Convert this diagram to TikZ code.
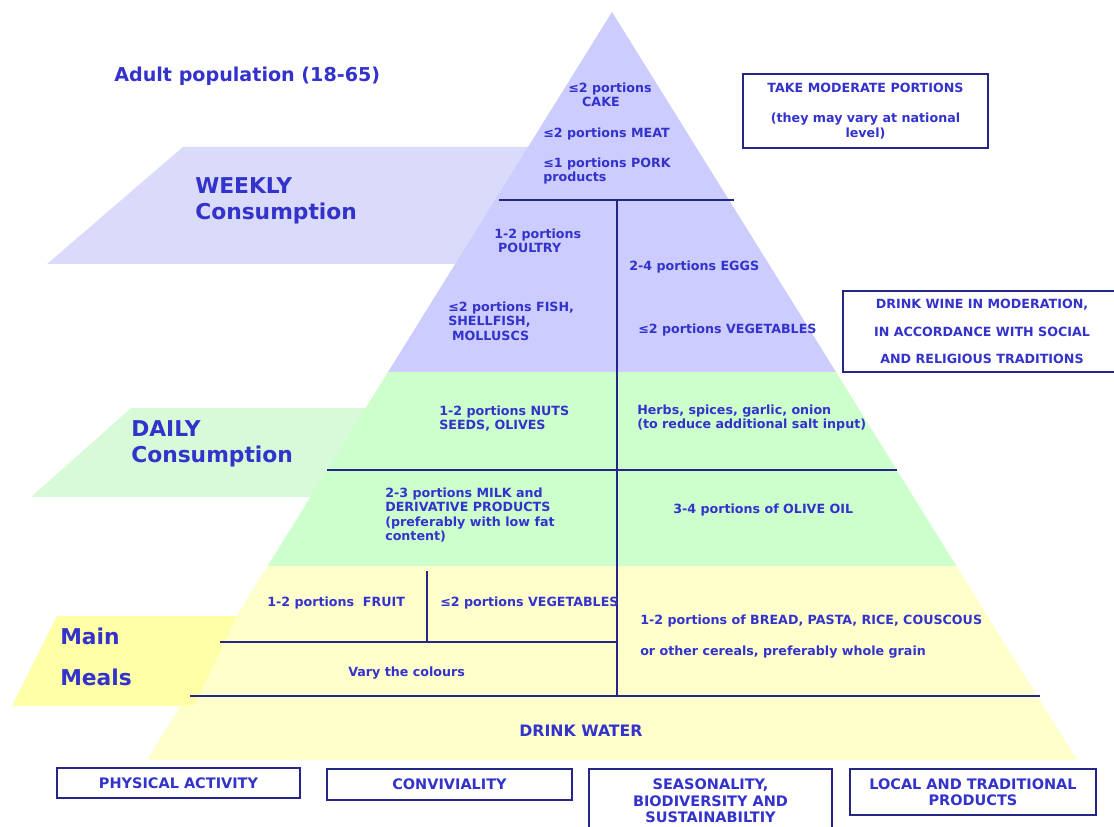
\documentclass[tikz,border=0pt]{standalone}
\usepackage{fontspec}
\setmainfont{DejaVu Sans}
\usepackage{xcolor}
\definecolor{medBlue}{RGB}{51, 51, 204}
\definecolor{medNavy}{RGB}{38, 38, 135}
\definecolor{weekPurple}{RGB}{204, 204, 255}
\definecolor{dayGreen}{RGB}{204, 255, 204}
\definecolor{baseYellow}{RGB}{255, 255, 204}
\definecolor{weekBand}{RGB}{218, 218, 250}
\definecolor{dayBand}{RGB}{216, 250, 216}
\definecolor{mealBand}{RGB}{255, 255, 168}
\usepackage{tikz}
\usetikzlibrary{
    positioning
}

\begin{document}
\begin{tikzpicture}[
    x=0.025cm, y=-0.025cm,
    foodText/.style={
        anchor=north west, inner sep=0pt,
        text=medBlue, align=left,
        font=\fontsize{9}{10}\selectfont\bfseries
    },
    groupText/.style={
        anchor=north west, inner sep=0pt,
        text=medBlue, align=left,
        font=\fontsize{15.5}{19}\selectfont\bfseries
    },
    infoBox/.style={
        rectangle, draw=medNavy, line width=1pt,
        fill=white, text=medBlue, align=center, inner sep=0pt,
        font=\fontsize{9}{10.7}\selectfont\bfseries
    },
    habitBox/.style={
        infoBox, font=\fontsize{10.3}{11.7}\selectfont\bfseries
    },
    divLine/.style={draw=medNavy, line width=1pt}
]
    \clip (0,0) rectangle (1114,827);

    % Frequency bands behind the pyramid
    \fill[weekBand] (183,147) -- (617,147) -- (617,264) -- (47,264) -- cycle;
    \fill[dayBand] (131,408) -- (617,408) -- (617,497) -- (31,497) -- cycle;

    % Pyramid layers
    \fill[weekPurple] (612,12) -- (836,372) -- (388,372) -- cycle;
    \fill[dayGreen] (388,372) -- (836,372) -- (956.4,566) -- (267.6,566) -- cycle;
    \fill[baseYellow] (267.6,566) -- (956.4,566) -- (1077,760) -- (147,760) -- cycle;

    % Main meals band
    \fill[mealBand] (57,616) -- (237,616) -- (194,706) -- (12,706) -- cycle;

    % Dividers
    \draw[divLine] (499,200) -- (734,200);
    \draw[divLine] (617,200) -- (617,697);
    \draw[divLine] (327,470) -- (897,470);
    \draw[divLine] (220,642) -- (617,642);
    \draw[divLine] (427,571) -- (427,642);
    \draw[divLine] (190,696) -- (1040,696);

    % Titles
    \node[groupText, font=\fontsize{13.6}{16}\selectfont\bfseries] (title) at (114,67) {Adult population (18-65)};
    \node[groupText] (weekly) at (195,177) {WEEKLY\\Consumption};
    \node[groupText] (daily) at (131,420) {DAILY\\Consumption};
    \node[groupText] (mainLbl) at (60,628) {Main};
    \node[groupText] (mealsLbl) at (60,669) {Meals};

    % Weekly foods
    \node[foodText] (cake) at (568,83) {≤2 portions\\\hspace*{1.1em}CAKE};
    \node[foodText] (meat) at (543,128) {≤2 portions MEAT};
    \node[foodText] (pork) at (543,158) {≤1 portions PORK\\products};
    \node[foodText] (poultry) at (494,229) {1-2 portions\\\hspace*{0.3em}POULTRY};
    \node[foodText] (eggs) at (629,261) {2-4 portions EGGS};
    \node[foodText] (fish) at (448,302) {≤2 portions FISH,\\SHELLFISH,\\\hspace*{0.3em}MOLLUSCS};
    \node[foodText] (vegWeek) at (638,324) {≤2 portions VEGETABLES};

    % Daily foods
    \node[foodText] (nuts) at (439,406) {1-2 portions NUTS\\SEEDS, OLIVES};
    \node[foodText] (herbs) at (637,405) {Herbs, spices, garlic, onion\\(to reduce additional salt input)};
    \node[foodText] (milk) at (385,488) {2-3 portions MILK and\\DERIVATIVE PRODUCTS\\(preferably with low fat\\content)};
    \node[foodText] (oliveOil) at (673,504) {3-4 portions of OLIVE OIL};

    % Main meals foods
    \node[foodText] (fruit) at (267,597) {1-2 portions~~FRUIT};
    \node[foodText] (vegMeal) at (440,597) {≤2 portions VEGETABLES};
    \node[foodText] (cereals) at (640,615) {1-2 portions of BREAD, PASTA, RICE, COUSCOUS\\[12pt]or other cereals, preferably whole grain};
    \node[foodText] (colours) at (348,667) {Vary the colours};
    \node[foodText, anchor=center, font=\fontsize{11.2}{13}\selectfont\bfseries] (water) at (581,731) {DRINK WATER};

    % Side advice
    \node[infoBox, minimum width=6.125cm, minimum height=1.85cm] (moderate) at (865.5,111)
        {TAKE MODERATE PORTIONS\\[11pt](they may vary at national\\level)};
    \node[infoBox, minimum width=6.95cm, minimum height=2.025cm, font=\fontsize{9}{19.5}\selectfont\bfseries] (wine) at (982,331.5)
        {DRINK WINE IN MODERATION,\\IN ACCORDANCE WITH SOCIAL\\AND RELIGIOUS TRADITIONS};

    % Lifestyle boxes
    \node[habitBox, minimum width=6.075cm, minimum height=0.75cm] (physAct) at (178.5,783) {PHYSICAL ACTIVITY};
    \node[habitBox, minimum width=6.125cm, minimum height=0.775cm] (convivial) at (449.5,784.5) {CONVIVIALITY};
    \node[habitBox, minimum width=6.075cm, minimum height=1.6cm] (seasonal) at (710.5,801) {SEASONALITY,\\BIODIVERSITY AND\\SUSTAINABILTIY};
    \node[habitBox, minimum width=6.15cm, minimum height=1.15cm] (localTrad) at (973,792) {LOCAL AND TRADITIONAL\\PRODUCTS};

\end{tikzpicture}
\end{document}
